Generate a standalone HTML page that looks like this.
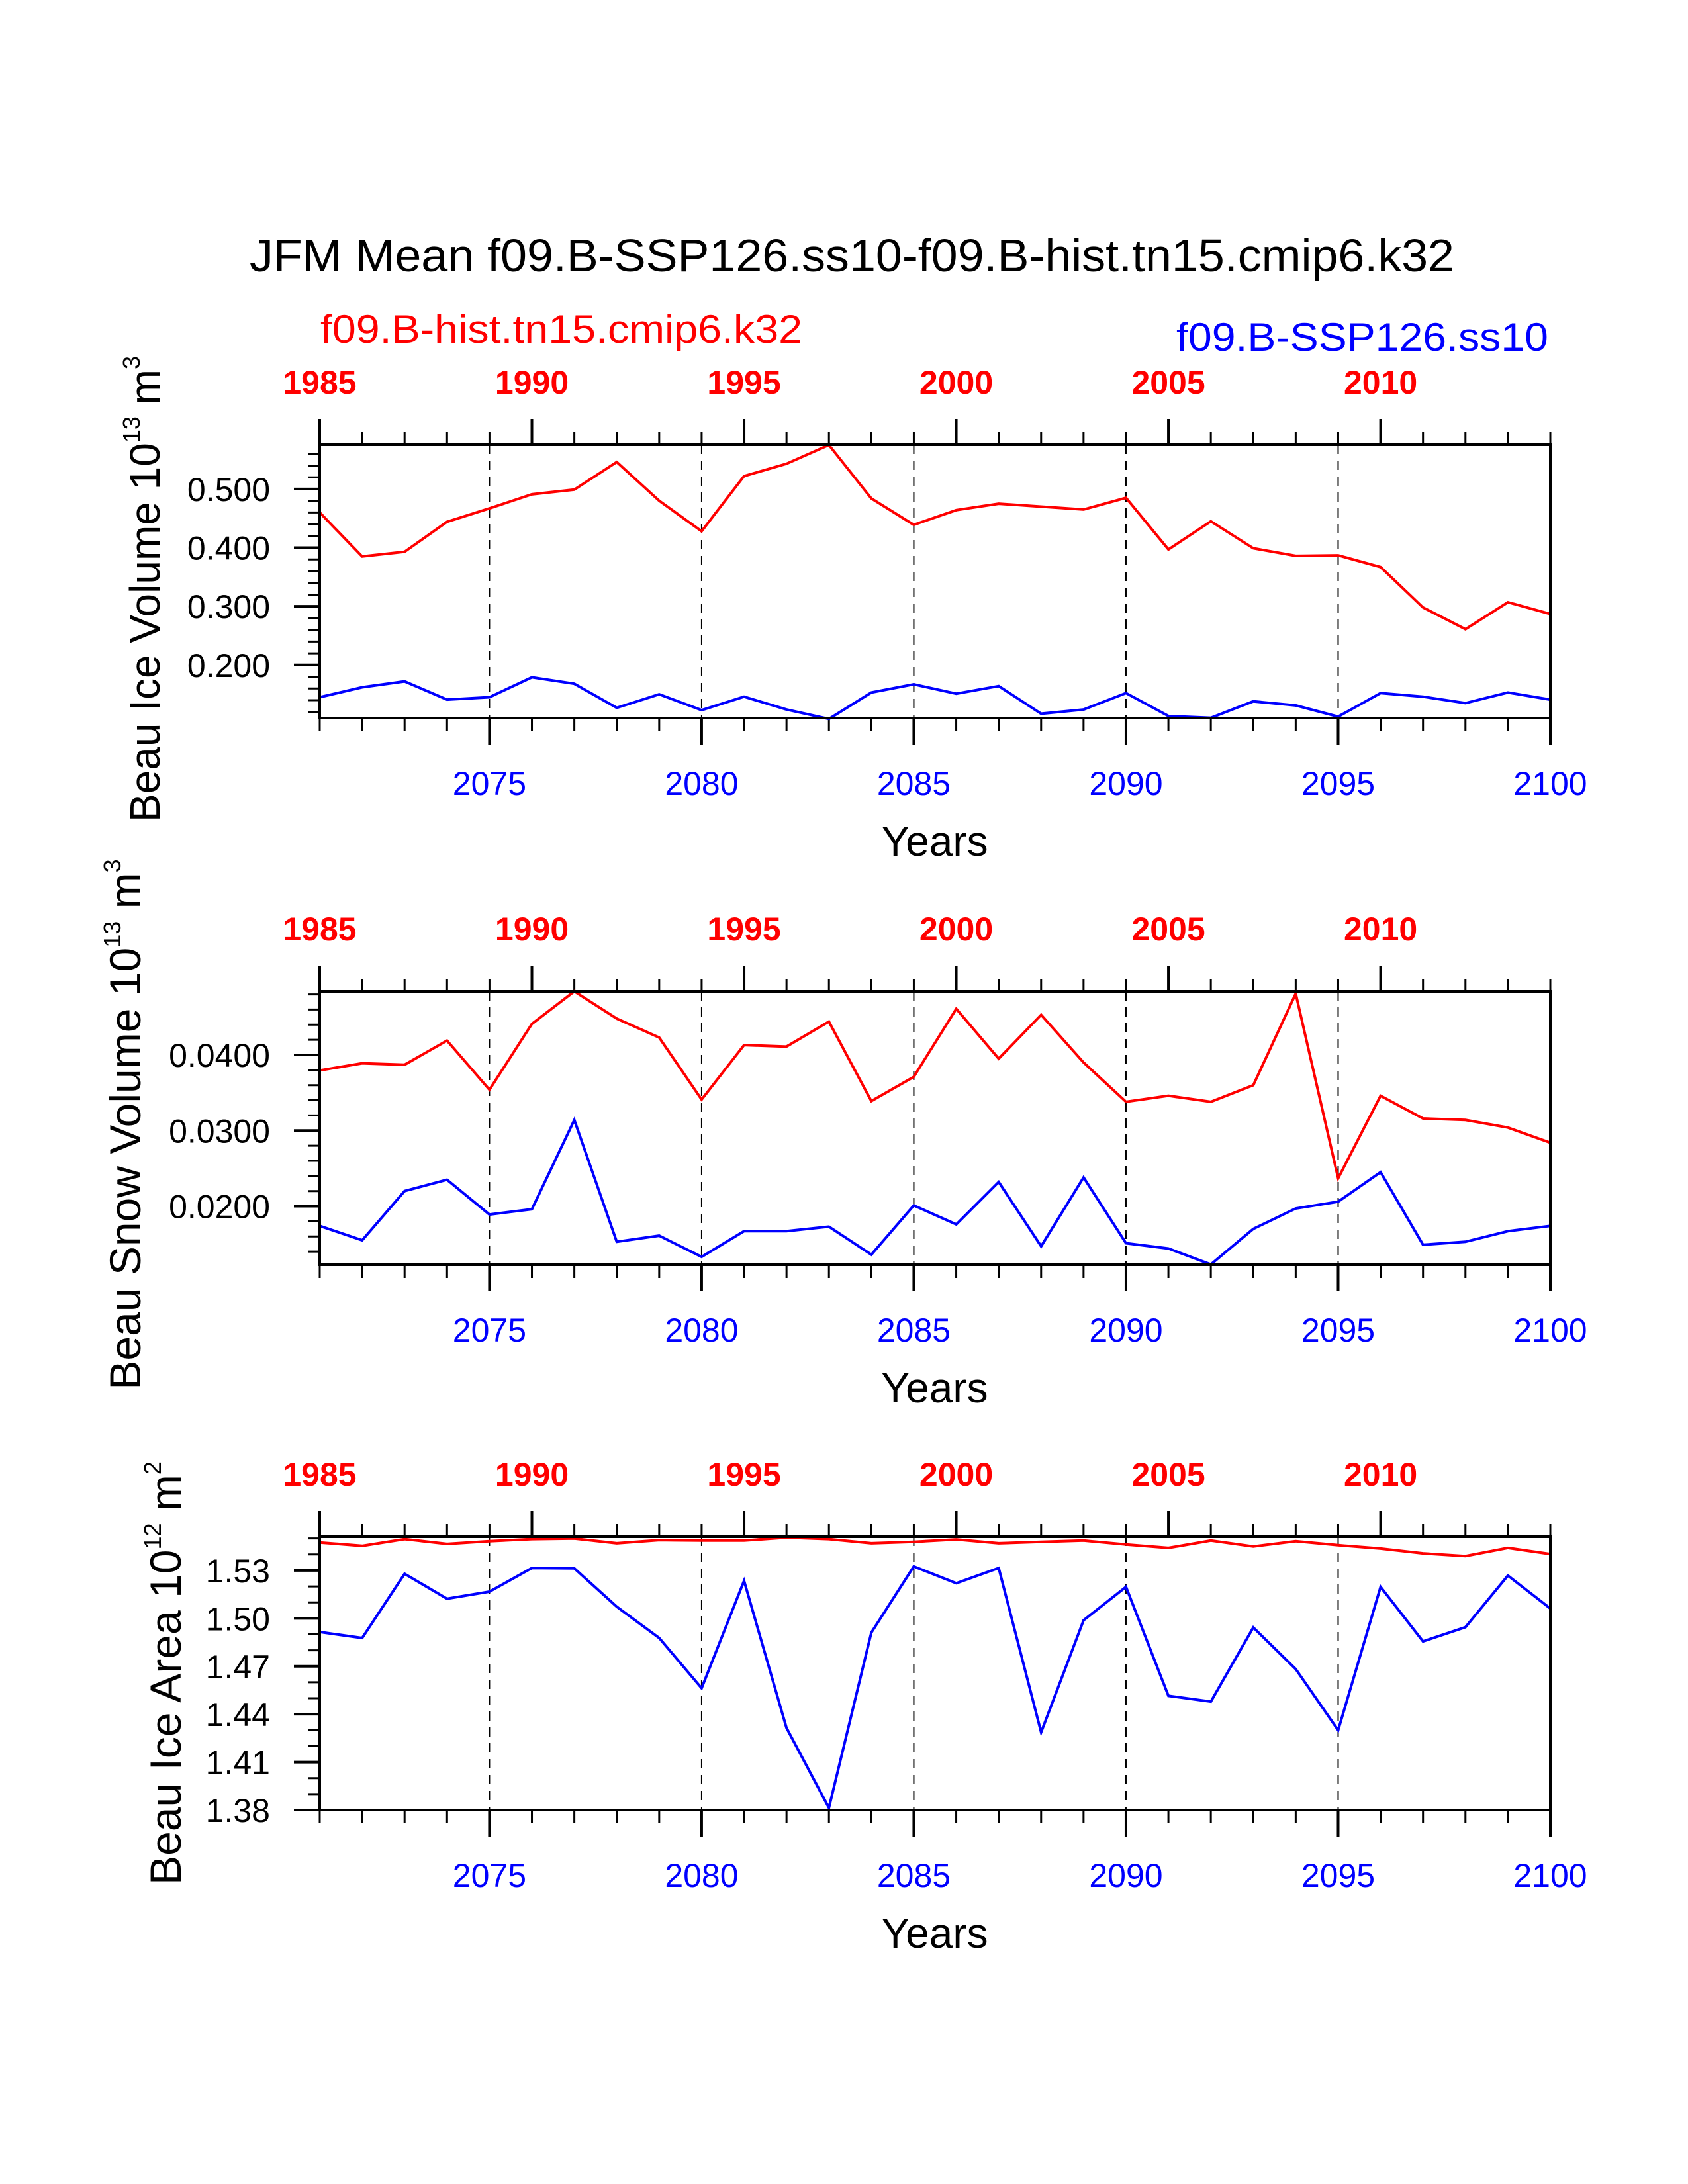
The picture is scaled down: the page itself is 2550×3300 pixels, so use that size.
<!DOCTYPE html>
<html><head><meta charset="utf-8">
<style>
html,body{margin:0;padding:0;background:#fff;}
svg{display:block;font-family:"Liberation Sans",Arial,sans-serif;}
</style></head>
<body>
<svg id="chart" width="2550" height="3300" viewBox="0 0 2550 3300" xmlns="http://www.w3.org/2000/svg">
<rect x="0" y="0" width="2550" height="3300" fill="#fff"/>
<text x="1287" y="410" font-size="70" text-anchor="middle" textLength="1820" lengthAdjust="spacingAndGlyphs">JFM Mean f09.B-SSP126.ss10-f09.B-hist.tn15.cmip6.k32</text>
<text x="484" y="518" font-size="60" fill="#ff0000" textLength="728" lengthAdjust="spacingAndGlyphs">f09.B-hist.tn15.cmip6.k32</text>
<text x="2339" y="530" font-size="60" fill="#0000ff" text-anchor="end" textLength="562" lengthAdjust="spacingAndGlyphs">f09.B-SSP126.ss10</text>
<g id="panels"></g>
</svg>
<script>
// ---- data ----
const years = [2071,2072,2073,2074,2075,2076,2077,2078,2079,2080,2081,2082,2083,2084,2085,2086,2087,2088,2089,2090,2091,2092,2093,2094,2095,2096,2097,2098,2099,2100];
const topYearLabels = [1985,1990,1995,2000,2005,2010];
const bottomYearLabels = [2075,2080,2085,2090,2095,2100];
const dashedYears = [2075,2080,2085,2090,2095];

const iceVolHist = [0.460,0.385,0.393,0.444,0.467,0.491,0.499,0.546,0.480,0.428,0.522,0.543,0.575,0.484,0.439,0.464,0.475,0.470,0.465,0.485,0.397,0.445,0.399,0.386,0.387,0.367,0.298,0.261,0.307,0.287];
const iceVolSsp = [0.145,0.162,0.172,0.141,0.145,0.179,0.168,0.127,0.150,0.123,0.146,0.124,0.108,0.153,0.167,0.151,0.164,0.117,0.124,0.152,0.113,0.110,0.138,0.131,0.112,0.152,0.146,0.135,0.153,0.141];
const iceVolTicks = [0.2,0.3,0.4,0.5];
const iceVolTickLabels = ["0.200","0.300","0.400","0.500"];

const snowVolHist = [0.03795,0.0389,0.0387,0.0419,0.0354,0.0441,0.0484,0.0448,0.0423,0.0341,0.0413,0.0411,0.0444,0.0339,0.0371,0.0461,0.0395,0.0453,0.0390,0.0338,0.0346,0.0338,0.0360,0.0481,0.0237,0.0346,0.0316,0.0314,0.0304,0.0284];
const snowVolSsp = [0.0174,0.0155,0.0220,0.0235,0.0189,0.0196,0.0314,0.0153,0.0161,0.0133,0.0167,0.0167,0.0173,0.0136,0.0201,0.0176,0.0232,0.0147,0.0238,0.0151,0.0144,0.0123,0.0170,0.0197,0.0206,0.0245,0.0149,0.0153,0.0167,0.0174];
const snowVolTicks = [0.02,0.03,0.04];
const snowVolTickLabels = ["0.0200","0.0300","0.0400"];

const iceAreaHist = [1.5475,1.5454,1.5496,1.5466,1.5483,1.5496,1.5500,1.5470,1.5490,1.5487,1.5487,1.5506,1.5496,1.5470,1.5479,1.5494,1.5470,1.5479,1.5487,1.5462,1.5441,1.5487,1.5450,1.5483,1.5458,1.5437,1.5407,1.5390,1.5441,1.5403];
const iceAreaSsp = [1.4915,1.4877,1.5279,1.5123,1.5167,1.5315,1.5313,1.5073,1.4877,1.4563,1.5235,1.4315,1.3814,1.4911,1.5325,1.5220,1.5315,1.4287,1.4988,1.5197,1.4515,1.4479,1.4943,1.4683,1.4300,1.5197,1.4856,1.4945,1.5268,1.5062];
const iceAreaTicks = [1.38,1.41,1.44,1.47,1.50,1.53];
const iceAreaTickLabels = ["1.38","1.41","1.44","1.47","1.50","1.53"];

const NS = "http://www.w3.org/2000/svg";
const root = document.getElementById("panels");
function mk(tag, attrs, parent){
  const e = document.createElementNS(NS, tag);
  for (const k in attrs) e.setAttribute(k, attrs[k]);
  (parent||root).appendChild(e);
  return e;
}
const X0 = 483, X1 = 2342;
const xMin = 2071, xMax = 2100;
function xs(v){ return X0 + (v - xMin) / (xMax - xMin) * (X1 - X0); }

function panel(cfg){
  const g = mk("g", {});
  
  
  const top = cfg.top, bot = cfg.top + 413;
  const ys = v => bot - (v - cfg.yMin) / (cfg.yMax - cfg.yMin) * (bot - top);
  dashedYears.forEach(yr => {
    const l = mk("line", {x1:xs(yr), x2:xs(yr), y1:top, y2:bot, stroke:"#000", "stroke-width":2, "stroke-dasharray":"14,10"}, g);
    
    
  });
  for (let v = cfg.minorStart; v <= cfg.yMax + 1e-9; v += cfg.minorStep) {
    const y = ys(v);
    if (y < top - 1 || y > bot + 1) continue;
    const t = mk("line", {x1:X0-17, x2:X0, y1:y, y2:y, stroke:"#000", "stroke-width":3}, g);
    
    
  }
  cfg.ticks.forEach((v, i) => {
    const y = ys(v);
    const t = mk("line", {x1:X0-39, x2:X0, y1:y, y2:y, stroke:"#000", "stroke-width":4}, g);
    
    
    const tx = mk("text", {x:408, y:y+18, "font-size":50, "text-anchor":"end"}, g);
    tx.textContent = cfg.tickLabels[i];
    
    
  });
  years.forEach(yr => {
    const x = xs(yr);
    const majB = bottomYearLabels.indexOf(yr) >= 0;
    const b = mk("line", {x1:x, x2:x, y1:bot, y2:bot + (majB ? 40 : 20), stroke:"#000", "stroke-width": majB ? 4 : 3}, g);
    
    
    const majT = (yr - xMin) % 5 === 0;
    const t = mk("line", {x1:x, x2:x, y1:top, y2:top - (majT ? 39 : 19), stroke:"#000", "stroke-width": majT ? 4 : 3}, g);
    
    
  });
  bottomYearLabels.forEach(yr => {
    const tx = mk("text", {x:xs(yr), y:bot+116, "font-size":50, "text-anchor":"middle", fill:"#0000ff"}, g);
    tx.textContent = yr;
    
    
  });
  topYearLabels.forEach(yr => {
    const tx = mk("text", {x:xs(xMin + (yr - topYearLabels[0])), y:top-77, "font-size":50, "font-weight":"bold", "text-anchor":"middle", fill:"#ff0000"}, g);
    tx.textContent = yr;
    
    
  });
  [[cfg.hist, "#ff0000", "series-hist"], [cfg.ssp, "#0000ff", "series-ssp"]].forEach(s => {
    const pts = years.map((yr, i) => xs(yr).toFixed(1) + "," + ys(s[0][i]).toFixed(1)).join(" ");
    const pl = mk("polyline", {points:pts, fill:"none", stroke:s[1], "stroke-width":4, "stroke-linejoin":"miter"}, g);
    
    
  });
  const fr = mk("rect", {x:X0, y:top, width:X1-X0, height:bot-top, fill:"none", stroke:"#000", "stroke-width":4}, g);
  
  
  const xt = mk("text", {x:1412, y:bot+208, "font-size":64, "text-anchor":"middle"}, g);
  xt.textContent = "Years";
  
  
  const cy = top + 206 + cfg.titleDy;
  const yt = mk("text", {x:0, y:0, "font-size":cfg.titleSize, "text-anchor":"middle", transform:"translate(" + cfg.titleX + "," + cy + ") rotate(-90)"}, g);
  
  
  const t1 = mk("tspan", {}, yt); t1.textContent = cfg.title + " 10";
  const t2 = mk("tspan", {dy:-30, "font-size":36}, yt); t2.textContent = cfg.exp;
  const t3 = mk("tspan", {dy:30}, yt); t3.textContent = " m";
  const t4 = mk("tspan", {dy:-30, "font-size":36}, yt); t4.textContent = cfg.unitExp;
}

panel({name:"panel-ice-volume", top:672, yMin:0.1095, yMax:0.5755, hist:iceVolHist, ssp:iceVolSsp, ticks:iceVolTicks, tickLabels:iceVolTickLabels, minorStart:0.12, minorStep:0.02, title:"Beau Ice Volume", exp:"13", unitExp:"3", titleX:241, titleDy:12, titleSize:64});
panel({name:"panel-snow-volume", top:1498, yMin:0.01226, yMax:0.0484, hist:snowVolHist, ssp:snowVolSsp, ticks:snowVolTicks, tickLabels:snowVolTickLabels, minorStart:0.014, minorStep:0.002, title:"Beau Snow Volume", exp:"13", unitExp:"3", titleX:212, titleDy:-5, titleSize:66});
panel({name:"panel-ice-area", top:2322, yMin:1.38, yMax:1.5511, hist:iceAreaHist, ssp:iceAreaSsp, ticks:iceAreaTicks, tickLabels:iceAreaTickLabels, minorStart:1.39, minorStep:0.01, title:"Beau Ice Area", exp:"12", unitExp:"2", titleX:273, titleDy:0, titleSize:66});
</script>
</body></html>
